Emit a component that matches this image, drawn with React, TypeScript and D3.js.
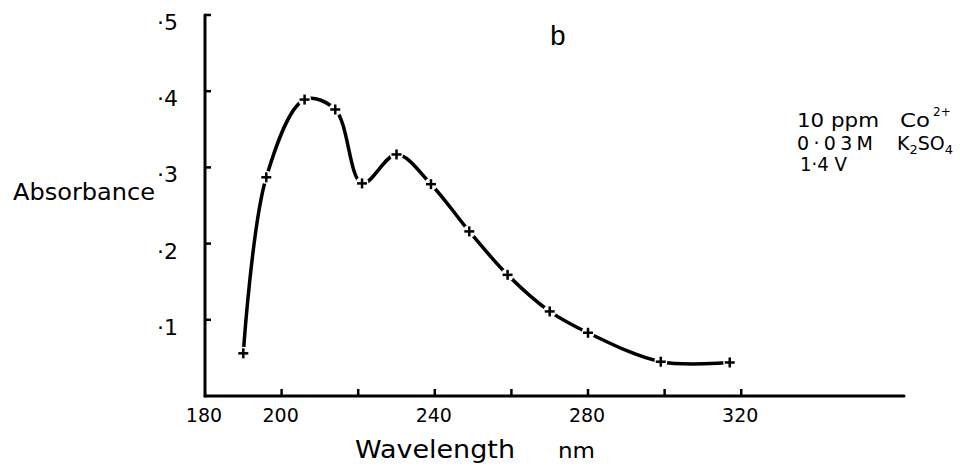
import React from 'react';
import * as d3 from 'd3';

const wavelengths = [190, 196, 206, 214, 221, 230, 239, 249, 259, 270, 280, 299, 317];
const absorbance = [0.056, 0.287, 0.389, 0.376, 0.279, 0.317, 0.278, 0.216, 0.159, 0.111, 0.083, 0.045, 0.044];
const xTicks = [200, 220, 240, 260, 280, 300, 320];
const xTickLabels = [180, 200, 240, 280, 320];
const yTicks = [0.1, 0.2, 0.3, 0.4, 0.5];
const yTickLabels = ['·1', '·2', '·3', '·4', '·5'];
const panelLabel = 'b';
const yTitle = 'Absorbance';
const xTitle = 'Wavelength';
const xUnit = 'nm';

const W = 975;
const H = 474;
const FONT = "'DejaVu Sans', sans-serif";

export default function App() {
  const x = d3.scaleLinear().domain([180, 362.5]).range([205, 904]);
  const y = d3.scaleLinear().domain([0, 0.5]).range([396, 15]);
  const pts: [number, number][] = wavelengths.map((w, i) => [w, absorbance[i]]);
  const line = d3
    .line<[number, number]>()
    .x((d) => x(d[0]))
    .y((d) => y(d[1]))
    .curve(d3.curveCatmullRom.alpha(0.5));
  const x0 = x(180);
  const y0 = y(0);
  return (
    <svg
      width={W}
      height={H}
      viewBox={`0 0 ${W} ${H}`}
      style={{ position: 'absolute', left: 0, top: 0, background: '#fff' }}
    >
      <rect width={W} height={H} fill="#fff" />
      {/* axes */}
      <line x1={x0} y1={y(0.5)} x2={x0} y2={y0} stroke="#000" strokeWidth={3} strokeLinecap="round" />
      <line x1={x0} y1={y0} x2={x(362.5)} y2={y0} stroke="#000" strokeWidth={3} strokeLinecap="round" />
      {yTicks.map((t) => (
        <line key={'yt' + t} x1={x0} x2={x0 + 6} y1={y(t)} y2={y(t)} stroke="#000" strokeWidth={2.5} />
      ))}
      {xTicks.map((t) => (
        <line key={'xt' + t} x1={x(t)} x2={x(t)} y1={y0} y2={y0 - 7} stroke="#000" strokeWidth={2.5} />
      ))}
      {yTicks.map((t, i) => (
        <text key={'yl' + t} x={x0 - 27} y={y(t) + 15} fontFamily={FONT} fontSize={22} textAnchor="end" fill="#000">
          {yTickLabels[i]}
        </text>
      ))}
      {xTickLabels.map((t) => (
        <text key={'xl' + t} x={x(t) - 1} y={y0 + 26} fontFamily={FONT} fontSize={19} textAnchor="middle" fill="#000">
          {t}
        </text>
      ))}
      {/* titles */}
      <text x={13} y={200} fontFamily={FONT} fontSize={23} textLength={142} lengthAdjust="spacingAndGlyphs" fill="#000">
        {yTitle}
      </text>
      <text x={355} y={458} fontFamily={FONT} fontSize={24} textLength={160} lengthAdjust="spacingAndGlyphs" fill="#000">
        {xTitle}
      </text>
      <text x={558} y={458} fontFamily={FONT} fontSize={22} textLength={37} lengthAdjust="spacingAndGlyphs" fill="#000">
        {xUnit}
      </text>
      <text x={558} y={45} fontFamily="'Liberation Mono', monospace" fontSize={28} textAnchor="middle" fill="#000">
        {panelLabel}
      </text>
      {/* annotation */}
      <g fontFamily={FONT} fill="#000">
        <text x={797} y={127} fontSize={19} textLength={82} lengthAdjust="spacingAndGlyphs">10 ppm</text>
        <text x={900} y={127} fontSize={19} textLength={30} lengthAdjust="spacingAndGlyphs">Co</text>
        <text x={933} y={116} fontSize={12}>2+</text>
        <text x={797} y={150} fontSize={19} textLength={76} lengthAdjust="spacing">0·03M</text>
        <text x={897} y={150} fontSize={19}>
          K<tspan fontSize={13} dy={4}>2</tspan>
          <tspan dy={-4}>SO</tspan>
          <tspan fontSize={13} dy={4}>4</tspan>
        </text>
        <text x={800} y={171} fontSize={19} textLength={47} lengthAdjust="spacingAndGlyphs">1·4 V</text>
      </g>
      {/* curve */}
      <path d={line(pts) || ''} fill="none" stroke="#000" strokeWidth={3.5} strokeLinecap="round" />
      {pts.map((d, i) => (
        <circle key={'c' + i} cx={x(d[0])} cy={y(d[1])} r={6.5} fill="#fff" />
      ))}
      {pts.map((d, i) => (
        <g key={'p' + i} stroke="#000" strokeWidth={2.5}>
          <line x1={x(d[0]) - 5} x2={x(d[0]) + 5} y1={y(d[1])} y2={y(d[1])} />
          <line x1={x(d[0])} x2={x(d[0])} y1={y(d[1]) - 5} y2={y(d[1]) + 5} />
        </g>
      ))}
    </svg>
  );
}
